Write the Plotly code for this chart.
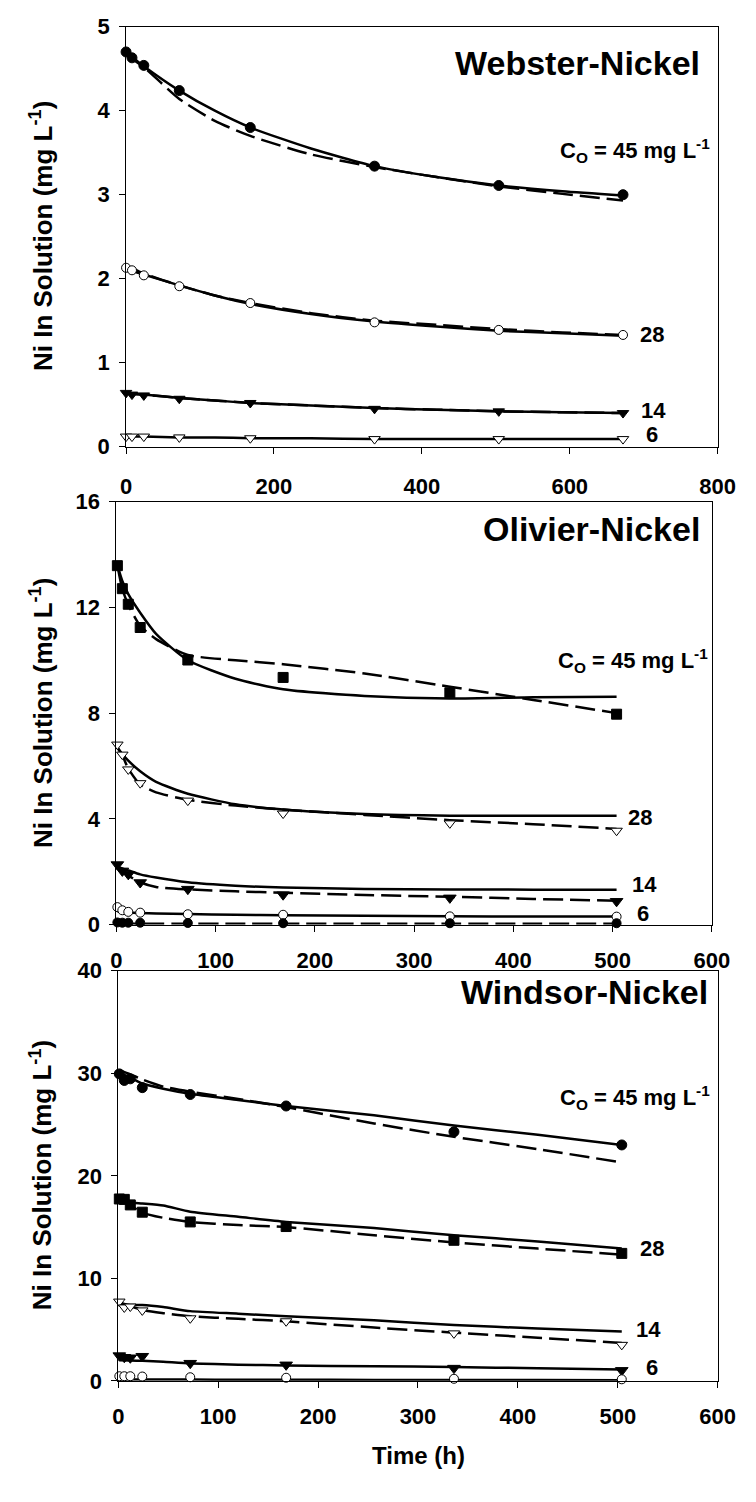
import plotly.graph_objects as go

W, H = 756, 1502
FONT = "Liberation Sans, Arial, sans-serif"

# ---------------- Webster-Nickel (top) ----------------
web_t = [0, 8, 24, 72, 168, 336, 504, 672]
web_45 = [4.70, 4.63, 4.54, 4.24, 3.80, 3.34, 3.11, 3.00]
web_28 = [2.13, 2.10, 2.04, 1.91, 1.71, 1.48, 1.39, 1.33]
web_14 = [0.64, 0.62, 0.61, 0.57, 0.52, 0.45, 0.42, 0.40]
web_6 = [0.12, 0.12, 0.12, 0.11, 0.10, 0.09, 0.09, 0.09]

web_fit_t = [0, 8, 24, 72, 120, 168, 250, 336, 420, 504, 590, 672]
web_45_solid = [4.70, 4.64, 4.53, 4.24, 4.00, 3.80, 3.55, 3.34, 3.21, 3.11, 3.04, 2.99]
web_45_dash = [4.68, 4.62, 4.52, 4.14, 3.88, 3.70, 3.48, 3.33, 3.21, 3.10, 3.01, 2.93]
web_28_solid = [2.12, 2.09, 2.05, 1.92, 1.80, 1.70, 1.58, 1.49, 1.43, 1.38, 1.35, 1.32]
web_28_dash = [2.10, 2.12, 2.06, 1.92, 1.80, 1.71, 1.59, 1.50, 1.45, 1.40, 1.36, 1.33]
web_14_solid = [0.64, 0.63, 0.62, 0.58, 0.55, 0.52, 0.49, 0.46, 0.44, 0.42, 0.41, 0.40]
web_14_dash = [0.64, 0.63, 0.62, 0.58, 0.55, 0.52, 0.49, 0.46, 0.44, 0.42, 0.41, 0.40]
web_6_solid = [0.12, 0.12, 0.12, 0.11, 0.11, 0.10, 0.10, 0.09, 0.09, 0.09, 0.09, 0.09]

# ---------------- Olivier-Nickel (middle) ----------------
oli_t = [1, 6, 12, 24, 72, 168, 336, 504]
oli_45 = [13.58, 12.71, 12.12, 11.24, 10.01, 9.35, 8.77, 7.96]
oli_28 = [6.81, 6.43, 5.87, 5.35, 4.69, 4.20, 3.83, 3.55]
oli_14 = [2.27, 2.03, 1.90, 1.59, 1.34, 1.13, 1.01, 0.88]
oli_6 = [0.66, 0.54, 0.48, 0.45, 0.39, 0.37, 0.31, 0.30]
oli_0 = [0.08, 0.07, 0.07, 0.07, 0.06, 0.05, 0.05, 0.05]

oli_fit_t = [1, 6, 12, 24, 40, 72, 120, 168, 250, 336, 420, 504]
oli_45_solid = [13.6, 13.0, 12.5, 11.8, 11.0, 10.0, 9.3, 8.9, 8.65, 8.55, 8.6, 8.62]
oli_45_dash = [13.6, 12.7, 12.1, 11.3, 10.8, 10.2, 10.0, 9.85, 9.5, 9.0, 8.5, 8.0]
oli_28_solid = [6.7, 6.45, 6.2, 5.8, 5.4, 4.95, 4.55, 4.35, 4.18, 4.12, 4.12, 4.12]
oli_28_dash = [6.7, 6.4, 5.9, 5.3, 5.0, 4.72, 4.5, 4.35, 4.15, 3.95, 3.8, 3.62]
oli_14_solid = [2.2, 2.12, 2.05, 1.9, 1.78, 1.6, 1.47, 1.4, 1.35, 1.33, 1.32, 1.32]
oli_14_dash = [2.2, 2.0, 1.85, 1.6, 1.42, 1.33, 1.26, 1.2, 1.12, 1.05, 0.97, 0.9]
oli_6_solid = [0.5, 0.48, 0.46, 0.44, 0.42, 0.40, 0.37, 0.35, 0.33, 0.31, 0.30, 0.30]
oli_0_dash = [0.03, 0.03, 0.03, 0.03, 0.03, 0.03, 0.03, 0.03, 0.03, 0.03, 0.03, 0.03]

# ---------------- Windsor-Nickel (bottom) ----------------
win_t = [1, 6, 12, 24, 72, 168, 336, 504]
win_45 = [29.94, 29.3, 29.46, 28.6, 27.93, 26.81, 24.29, 23.01]
win_28 = [17.74, 17.7, 17.16, 16.45, 15.5, 15.05, 13.71, 12.43]
win_14 = [7.73, 7.16, 7.25, 6.87, 6.10, 5.81, 4.63, 3.51]
win_6 = [2.46, 2.30, 2.25, 2.40, 1.72, 1.56, 1.24, 1.02]
win_0 = [0.45, 0.45, 0.45, 0.42, 0.35, 0.30, 0.20, 0.15]

win_fit_t = [1, 12, 24, 45, 72, 120, 168, 256, 336, 420, 504]
win_45_solid = [30.0, 29.6, 29.0, 28.5, 28.0, 27.4, 26.8, 25.9, 24.9, 24.0, 23.0]
win_45_dash = [30.3, 29.9, 29.4, 28.7, 28.2, 27.5, 26.7, 25.1, 23.8, 22.6, 21.3]
win_28_solid = [17.7, 17.4, 17.3, 17.1, 16.5, 16.0, 15.5, 14.9, 14.2, 13.6, 12.9]
win_28_dash = [17.7, 17.1, 16.4, 15.9, 15.5, 15.2, 15.0, 14.2, 13.5, 12.9, 12.3]
win_14_solid = [7.6, 7.4, 7.4, 7.2, 6.8, 6.55, 6.3, 5.9, 5.45, 5.1, 4.8]
win_14_dash = [7.6, 7.3, 6.9, 6.6, 6.3, 6.05, 5.8, 5.2, 4.7, 4.2, 3.7]
win_6_solid = [2.0, 1.98, 1.95, 1.85, 1.7, 1.58, 1.5, 1.42, 1.35, 1.22, 1.1]
win_0_solid = [0.15, 0.14, 0.14, 0.13, 0.12, 0.11, 0.1, 0.09, 0.08, 0.07, 0.06]

fig = go.Figure()

def line(xs, ys, ax, dash=False):
    fig.add_trace(go.Scatter(
        x=xs, y=ys, mode="lines", xaxis="x" + ax, yaxis="y" + ax,
        line=dict(color="black", width=2.5, shape="spline", smoothing=0.6,
                  dash="20px,7px" if dash else "solid"),
        showlegend=False, hoverinfo="skip"))

def pts(xs, ys, ax, symbol, filled, size=9):
    fig.add_trace(go.Scatter(
        x=xs, y=ys, mode="markers", xaxis="x" + ax, yaxis="y" + ax,
        marker=dict(symbol=symbol, size=size,
                    color="black" if filled else "white",
                    line=dict(color="black", width=1)),
        cliponaxis=False, showlegend=False))

# top
line(web_fit_t, web_45_dash, "", True)
line(web_fit_t, web_45_solid, "")
line(web_fit_t, web_28_dash, "", True)
line(web_fit_t, web_28_solid, "")
line(web_fit_t, web_14_dash, "", True)
line(web_fit_t, web_14_solid, "")
line(web_fit_t, web_6_solid, "")
pts(web_t, web_45, "", "circle", True, 10)
pts(web_t, web_28, "", "circle", False, 9)
pts(web_t, web_14, "", "triangle-down", True, 10)
pts(web_t, web_6, "", "triangle-down", False, 10)

# middle
line(oli_fit_t, oli_45_dash, "2", True)
line(oli_fit_t, oli_45_solid, "2")
line(oli_fit_t, oli_28_dash, "2", True)
line(oli_fit_t, oli_28_solid, "2")
line(oli_fit_t, oli_14_dash, "2", True)
line(oli_fit_t, oli_14_solid, "2")
line(oli_fit_t, oli_6_solid, "2")
line(oli_fit_t, oli_0_dash, "2", True)
pts(oli_t, oli_45, "2", "square", True, 10)
pts(oli_t, oli_28, "2", "triangle-down", False, 10)
pts(oli_t, oli_14, "2", "triangle-down", True, 11)
pts(oli_t, oli_6, "2", "circle", False, 9)
pts(oli_t, oli_0, "2", "circle", True, 9)

# bottom
line(win_fit_t, win_45_dash, "3", True)
line(win_fit_t, win_45_solid, "3")
line(win_fit_t, win_28_dash, "3", True)
line(win_fit_t, win_28_solid, "3")
line(win_fit_t, win_14_dash, "3", True)
line(win_fit_t, win_14_solid, "3")
line(win_fit_t, win_6_solid, "3")
line(win_fit_t, win_0_solid, "3")
pts(win_t, win_45, "3", "circle", True, 10)
pts(win_t, win_28, "3", "square", True, 10)
pts(win_t, win_14, "3", "triangle-down", False, 10)
pts(win_t, win_6, "3", "triangle-down", True, 11)
pts(win_t, win_0, "3", "circle", False, 9)

def fx(px):
    return px / W

def fy(py):
    return 1 - py / H

tickfont = dict(family=FONT, size=22, color="black", weight="bold")

def xax(x0, x1, y_anchor, rng, dtick, standoff):
    return dict(domain=[fx(x0), fx(x1)], anchor=y_anchor, range=rng, dtick=dtick,
                tick0=0, showgrid=False, zeroline=False, showline=True,
                linecolor="black", linewidth=1, mirror=True, ticks="outside",
                ticklen=6, tickcolor="black", tickfont=tickfont,
                ticklabelstandoff=standoff)

def yax(y0, y1, x_anchor, rng, dtick):
    return dict(domain=[fy(y1), fy(y0)], anchor=x_anchor, range=rng, dtick=dtick,
                tick0=0, showgrid=False, zeroline=False, showline=True,
                linecolor="black", linewidth=1, mirror=True, ticks="outside",
                ticklen=6, tickcolor="black", tickfont=tickfont,
                ticklabelstandoff=5)

layout = dict(
    width=W, height=H, margin=dict(l=0, r=0, t=0, b=0),
    paper_bgcolor="white", plot_bgcolor="white", showlegend=False,
    xaxis=xax(124, 735, "y", [0, 800], 200, 14),
    yaxis=yax(15, 442, "x", [0, 5], 1),
    xaxis2=xax(114, 729, "y2", [0, 600], 100, 10),
    yaxis2=yax(498, 928, "x2", [0, 16], 4),
    xaxis3=xax(116, 735, "y3", [0, 600], 100, 10),
    yaxis3=yax(975, 1392, "x3", [0, 40], 10),
)
fig.update_layout(**layout)

ann = []

def text(s, x, y, size, xanchor="center", angle=0):
    ann.append(dict(text=s, x=fx(x), y=fy(y), xref="paper", yref="paper",
                    xanchor=xanchor, yanchor="middle", showarrow=False,
                    textangle=angle,
                    font=dict(family=FONT, size=size, color="black", weight="bold")))

co = "C<sub>O</sub> = 45 mg L<sup>-1</sup>"
ytitle = "Ni In Solution (mg L<sup>-1</sup>)"

# titles
text("Webster-Nickel", 719, 52, 34, "right")
text("Olivier-Nickel", 719, 526, 34, "right")
text("Windsor-Nickel", 727, 997, 34, "right")

# C0 labels
text(co, 729, 141, 22, "right")
text(co, 727, 659, 22, "right")
text(co, 729, 1104, 22, "right")

# concentration labels
text("28", 653, 328, 22, "left")
text("14", 654, 405, 22, "left")
text("6", 659, 430, 22, "left")
text("28", 640, 819, 22, "left")
text("14", 644, 887, 22, "left")
text("6", 650, 917, 22, "left")
text("28", 653, 1257, 22, "left")
text("14", 649, 1340, 22, "left")
text("6", 659, 1378, 22, "left")

# axis titles
text(ytitle, 36, 228, 26, "center", -90)
text(ytitle, 36, 713, 26, "center", -90)
text(ytitle, 36, 1183, 26, "center", -90)
text("Time (h)", 426, 1468, 24, "center")

fig.update_layout(annotations=ann)
fig.write_html("out.html")
